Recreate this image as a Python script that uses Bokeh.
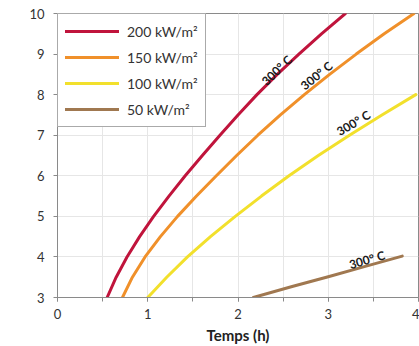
from bokeh.plotting import figure
from bokeh.models import Legend, LegendItem, SingleIntervalTicker, Range1d
from bokeh.core.properties import value
from bokeh.embed import file_html
from bokeh.resources import INLINE

# ---- data ----
series_names = ["200 kW/m²", "150 kW/m²", "100 kW/m²", "50 kW/m²"]
temps_200 = [0.55, 0.65, 0.77, 0.91, 1.065, 1.235, 1.415, 1.605, 1.80, 2.00, 2.21, 2.435, 2.675, 2.925, 3.19]
depth_200 = [3, 3.5, 4, 4.5, 5, 5.5, 6, 6.5, 7, 7.5, 8, 8.5, 9, 9.5, 10]
temps_150 = [0.72, 0.83, 0.97, 1.14, 1.33, 1.54, 1.76, 1.985, 2.22, 2.47, 2.735, 3.015, 3.31, 3.62, 3.95]
depth_150 = [3, 3.5, 4, 4.5, 5, 5.5, 6, 6.5, 7, 7.5, 8, 8.5, 9, 9.5, 10]
temps_100 = [1.00, 1.21, 1.44, 1.695, 1.97, 2.26, 2.565, 2.89, 3.235, 3.595, 3.97]
depth_100 = [3, 3.5, 4, 4.5, 5, 5.5, 6, 6.5, 7, 7.5, 8]
temps_50 = [2.17, 2.60, 3.00, 3.40, 3.82]
depth_50 = [3.00, 3.27, 3.51, 3.76, 4.02]
label_text = "300° C"
label_x = [2.43, 2.87, 3.28, 3.43]
label_y = [8.60, 8.47, 7.30, 3.93]
label_angle = [44, 39, 31, 16]

colors = ["#C0143C", "#F0902A", "#F2E02C", "#A07850"]
FONT = "Lato"

p = figure(width=419, height=346, output_backend="svg", toolbar_location=None,
           x_range=Range1d(0, 4), y_range=Range1d(3, 10),
           min_border_left=57, min_border_right=1, min_border_top=13, min_border_bottom=10)

p.outline_line_color = "#8a8a8a"
p.outline_line_width = 1

xs = [temps_200, temps_150, temps_100, temps_50]
ys = [depth_200, depth_150, depth_100, depth_50]
renderers = []
for x, y, c in zip(xs, ys, colors):
    r = p.line(x, y, line_color=c, line_width=3, line_cap="round", line_join="round")
    renderers.append(r)

for i in range(4):
    p.text(x=[label_x[i]], y=[label_y[i]], text=[label_text], angle=[label_angle[i]],
           angle_units="deg", text_align="center", text_baseline="middle",
           text_font=value(FONT), text_font_style="bold", text_font_size="12px",
           text_color="#1a1a1a")

# axes
p.xaxis.ticker = SingleIntervalTicker(interval=1, num_minor_ticks=2)
p.yaxis.ticker = SingleIntervalTicker(interval=1, num_minor_ticks=0)
for ax in (p.xaxis[0], p.yaxis[0]):
    ax.axis_line_color = "#8a8a8a"
    ax.major_tick_line_color = "#8a8a8a"
    ax.minor_tick_line_color = "#8a8a8a"
    ax.major_tick_in = 0
    ax.major_tick_out = 4
    ax.minor_tick_in = 0
    ax.minor_tick_out = 4
    ax.major_label_text_font = FONT
    ax.major_label_text_font_size = "13px"
    ax.major_label_text_color = "#333333"
p.yaxis.major_label_standoff = 9
p.xaxis.major_label_standoff = 7
p.xaxis.axis_label = "Temps (h)"
p.xaxis.axis_label_text_font = FONT
p.xaxis.axis_label_text_font_size = "15px"
p.xaxis.axis_label_text_font_style = "bold"
p.xaxis.axis_label_text_color = "#222222"
p.xaxis.axis_label_standoff = 4

p.xgrid.grid_line_color = "#e6e6e6"
p.xgrid.minor_grid_line_color = "#e6e6e6"
p.ygrid.grid_line_color = "#e6e6e6"

legend = Legend(items=[LegendItem(label=n, renderers=[r]) for n, r in zip(series_names, renderers)],
                location="top_left", margin=0, padding=7, spacing=6,
                glyph_width=54, glyph_height=20, label_height=20, label_standoff=8,
                label_text_font=FONT, label_text_font_size="14px", label_text_color="#333333",
                border_line_color="#555555", border_line_width=1,
                background_fill_alpha=1)
p.add_layout(legend)

open("out.html", "w").write(file_html(p, INLINE))
